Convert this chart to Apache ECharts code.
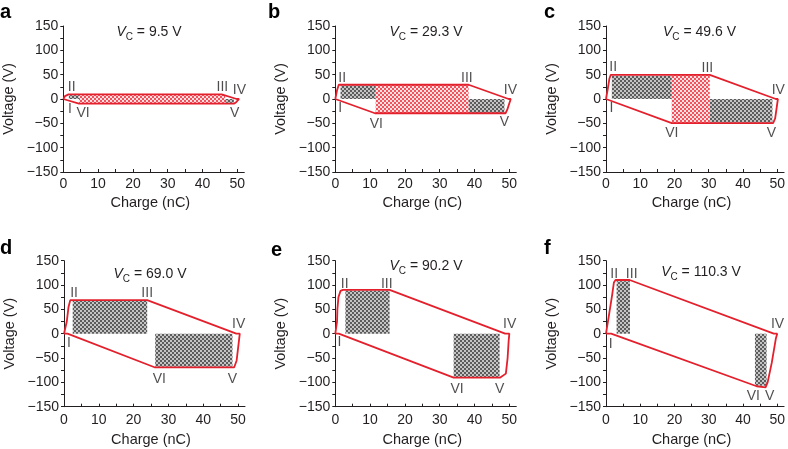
<!DOCTYPE html>
<html><head><meta charset="utf-8">
<script src="https://cdn.jsdelivr.net/npm/echarts@6/dist/echarts.min.js"></script>
<style>html,body{margin:0;padding:0;background:#fff}#c{width:788px;height:449px}</style>
</head><body><div id="c"></div>
<script>
// ---------- data ----------
const panelLetters = ['a', 'b', 'c', 'd', 'e', 'f'];
const vcValues = ['9.5', '29.3', '49.6', '69.0', '90.2', '110.3'];
const xTickValues = [0, 10, 20, 30, 40, 50];
const xTickMarks = [0, 5, 10, 15, 20, 25, 30, 35, 40, 45, 50];
const yTickValues = [-150, -100, -50, 0, 50, 100, 150];
const yTickMarks = [-150, -125, -100, -75, -50, -25, 0, 25, 50, 75, 100, 125, 150];

const loopA = [[0,0],[0.5,6],[1.5,9.5],[45.5,9.5],[49.8,0],[50.5,0],[49.6,-7],[49,-9.5],[4.5,-9.5],[0,0]];
const loopB = [[0,0],[0.5,18],[1,29.3],[38.3,29.3],[49.8,0],[50.4,0],[49.4,-22],[48.9,-29.3],[11.4,-29.3],[0,0]];
const loopC = [[0,0],[0.5,20],[1,42],[1.4,49.6],[30.3,49.6],[49.6,0],[50.2,0],[49.4,-40],[48.8,-49.6],[19.2,-49.6],[0,0]];
const loopD = [[0,0],[0.8,25],[1.3,55],[1.8,69],[23.9,69],[49.5,0],[50.5,0],[49.6,-55],[48.9,-69],[26,-69],[1,0],[0,0]];
const loopE = [[0,0],[0.5,25],[0.6,50],[0.9,75],[1.5,88],[2.2,90.2],[15.6,90.2],[48.8,0],[50,0],[49.8,-15],[49.5,-50],[49,-82],[47.4,-90.2],[34,-90.2],[1,0],[0,0]];
const loopF = [[0,0],[0.8,35],[1.8,80],[2.3,105],[2.8,110.3],[6.9,110.3],[49,0],[50,0],[49.6,-10],[48.4,-60],[47.2,-100],[46.6,-110.3],[44,-108],[1.5,0],[0,0]];

// rectangles: [x1, x2, y1, y2]
const grayA = [[1.6,4.5,0,8],[46.5,49,-8,0]];
const grayB = [[1.5,11.6,0,28],[38.3,48.6,-29,0]];
const grayC = [[1.7,19.2,0,48],[30.3,48.6,-49,0]];
const grayD = [[2.5,23.9,0,68],[26.2,48.4,-68,0]];
const grayE = [[2.9,15.6,0,89],[34,47.2,-89,0]];
const grayF = [[3.1,7,0,108],[43.5,46.9,-107,0]];
const redA = [[4.5,46.5,-9.5,9.5]];
const redB = [[11.6,38.3,-29.3,29.3]];
const redC = [[19.2,30.3,-49.6,49.6]];
const redD = [];
const redE = [];
const redF = [];

// point labels: [text, x, y]
const labelsA = [['I',1.9,-21],['II',2.4,23.7],['III',45.7,23.7],['IV',50.6,18],['V',49.2,-30],['VI',5.7,-30]];
const labelsB = [['I',1.4,-19.6],['II',2,43.6],['III',37.8,43.6],['IV',50.3,18],['V',48.6,-47],['VI',11.8,-52]];
const labelsC = [['I',1.6,-19.6],['II',2.1,66],['III',29.6,63],['IV',50.3,18],['V',48.3,-71],['VI',19.2,-71]];
const labelsD = [['I',1.4,-19],['II',2.9,83.6],['III',23.9,83.6],['IV',50.2,20],['V',48.4,-93],['VI',27.4,-93]];
const labelsE = [['I',1.2,-18],['II',2.7,102],['III',14.8,102],['IV',50.1,20],['V',47.2,-114],['VI',35,-114]];
const labelsF = [['I',1.4,-21],['II',2.4,122.6],['III',7.5,122.6],['IV',50.1,20],['V',47.8,-129],['VI',43,-129]];

const loops = [loopA, loopB, loopC, loopD, loopE, loopF];
const grays = [grayA, grayB, grayC, grayD, grayE, grayF];
const reds = [redA, redB, redC, redD, redE, redF];
const labels = [labelsA, labelsB, labelsC, labelsD, labelsE, labelsF];

// ---------- layout / style ----------
const FONT = 'Liberation Sans, Arial, Helvetica, sans-serif';
const INK = '#231f20';
const gridPos = [[63.3,26],[335.3,26],[606,26],[64,260.7],[335.3,260.7],[606,260.7]];
const GW = 181, GH = 146;
const letterPos = [[0,12.4],[268,12],[544,12.4],[0,248],[271,250],[544,248]];
const titlePos = [[149,25],[426,25],[699.5,25],[150,267],[426,259.5],[701,265]];

function checker(c1, c2) {
  const cv = document.createElement('canvas');
  cv.width = 4; cv.height = 4;
  const g = cv.getContext('2d');
  g.fillStyle = c2; g.fillRect(0, 0, 4, 4);
  g.fillStyle = c1; g.fillRect(0, 0, 2, 2); g.fillRect(2, 2, 2, 2);
  return { type: 'pattern', image: cv, repeat: 'repeat' };
}
const grayPat = checker('#5c5c5c', '#c4c4c4');
const redPat = checker('#f0525e', '#fde0e2');

const grid = [], xAxis = [], yAxis = [], series = [], graphic = [];

function rectSeries(i, data, pat) {
  return {
    type: 'custom', xAxisIndex: i, yAxisIndex: i, data: data, silent: true, z: 1,
    encode: { x: [0, 1], y: [2, 3] },
    renderItem: function (params, api) {
      const p1 = api.coord([api.value(0), api.value(2)]);
      const p2 = api.coord([api.value(1), api.value(3)]);
      return {
        type: 'rect',
        shape: { x: Math.min(p1[0], p2[0]), y: Math.min(p1[1], p2[1]),
                 width: Math.abs(p2[0] - p1[0]), height: Math.abs(p2[1] - p1[1]) },
        style: { fill: pat }
      };
    }
  };
}

for (let i = 0; i < 6; i++) {
  const row2 = i >= 3;
  grid.push({ left: gridPos[i][0], top: gridPos[i][1], width: GW, height: GH });
  xAxis.push({
    gridIndex: i, type: 'value', min: 0, max: 52, interval: 10,
    axisLine: { show: true, onZero: false, lineStyle: { color: INK, width: 1 } },
    axisTick: { show: true, inside: true, length: 3, customValues: xTickMarks, lineStyle: { color: INK } },
    axisLabel: { customValues: xTickValues, fontSize: 14, color: INK, fontFamily: FONT, margin: row2 ? 6 : 5 },
    splitLine: { show: false },
    name: 'Charge (nC)', nameLocation: 'middle', nameGap: row2 ? 26 : 23,
    nameTextStyle: { fontSize: 14.5, color: INK, fontFamily: FONT, padding: [0, 7, 0, 0] }
  });
  yAxis.push({
    gridIndex: i, type: 'value', min: -150, max: 150, interval: 50,
    axisLine: { show: true, onZero: false, lineStyle: { color: INK, width: 1 } },
    axisTick: { show: true, inside: false, length: 3, customValues: yTickMarks, lineStyle: { color: INK } },
    axisLabel: { customValues: yTickValues, fontSize: 14, color: INK, fontFamily: FONT, margin: 5,
                 formatter: function (v) { return String(v).replace('-', '\u2212'); } },
    splitLine: { show: false },
    name: 'Voltage (V)', nameLocation: 'middle', nameGap: 47,
    nameTextStyle: { fontSize: 14.5, color: INK, fontFamily: FONT }
  });
  series.push(rectSeries(i, reds[i], redPat));
  series.push(rectSeries(i, grays[i], grayPat));
  series.push({
    type: 'line', xAxisIndex: i, yAxisIndex: i, data: loops[i], symbol: 'none', silent: true, z: 3,
    lineStyle: { color: '#e3202c', width: 1.8 }
  });
  series.push({
    type: 'scatter', xAxisIndex: i, yAxisIndex: i, symbolSize: 1, silent: true, z: 4, clip: false,
    itemStyle: { color: 'rgba(0,0,0,0)' },
    data: labels[i].map(function (l) { return { name: l[0], value: [l[1], l[2]] }; }),
    label: { show: true, position: 'inside', formatter: '{b}', fontSize: 14, color: INK, fontFamily: FONT }
  });
  graphic.push({
    type: 'text', x: letterPos[i][0], y: letterPos[i][1], silent: true,
    style: { text: panelLetters[i], font: 'bold 20px ' + FONT, fill: '#000', align: 'left', verticalAlign: 'middle' }
  });
  graphic.push({
    type: 'text', x: titlePos[i][0], y: titlePos[i][1], silent: true,
    style: {
      text: '{i|V}{s|C}{n| = ' + vcValues[i] + ' V}', align: 'center', verticalAlign: 'top',
      rich: {
        i: { fontSize: 14, fontStyle: 'italic', fontFamily: FONT, fill: INK, lineHeight: 16, verticalAlign: 'top' },
        s: { fontSize: 10, fontFamily: FONT, fill: INK, lineHeight: 17, verticalAlign: 'bottom' },
        n: { fontSize: 14, fontFamily: FONT, fill: INK, lineHeight: 16, verticalAlign: 'top' }
      }
    }
  });
}

const chart = echarts.init(document.getElementById('c'), null, { renderer: 'canvas' });
chart.setOption({ animation: false, backgroundColor: '#fff', grid, xAxis, yAxis, series, graphic });
</script></body></html>
